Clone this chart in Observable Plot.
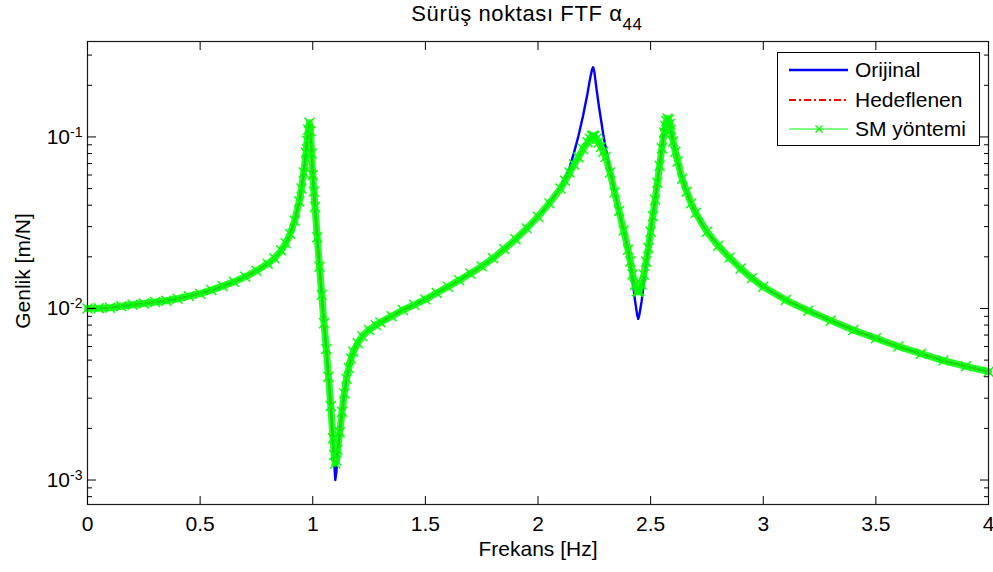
<!DOCTYPE html>
<html>
<head>
<meta charset="utf-8">
<script src="https://cdn.jsdelivr.net/npm/d3@7"></script>
<script src="https://cdn.jsdelivr.net/npm/@observablehq/plot@0.6"></script>
<style>
  body { margin: 0; background: #fff; font-family: "Liberation Sans", Arial, sans-serif; }
  #wrap { position: relative; width: 993px; height: 572px; overflow: hidden; }
  #wrap > svg { position: absolute; left: 0; top: 0; }
  #legend { position: absolute; left: 777px; top: 52px; width: 203px; height: 94px;
            border: 1px solid #000; background: #fff; box-sizing: border-box; }
  .lrow { position: absolute; left: 0; height: 26px; width: 100%; }
  .lrow svg { position: absolute; left: 11px; top: 0; }
  .lrow span { position: absolute; left: 77px; top: 0; font-size: 21px; line-height: 26px; color: #000; white-space: nowrap; }
</style>
</head>
<body>
<div id="wrap"></div>
<script>
// ---- data ----
const frekans = [
  0.00, 0.05, 0.10, 0.15, 0.20, 0.25, 0.30, 0.35, 0.40, 0.45,
  0.50, 0.55, 0.60, 0.65, 0.70, 0.75, 0.80, 0.83, 0.86, 0.88,
  0.90, 0.92, 0.94, 0.95, 0.96, 0.97, 0.975, 0.98, 0.985, 0.99,
  0.995, 1.00, 1.005, 1.01, 1.02, 1.03, 1.04, 1.05, 1.06, 1.07,
  1.08, 1.09, 1.095, 1.10, 1.105, 1.11, 1.12, 1.13, 1.14, 1.15,
  1.16, 1.17, 1.18, 1.20, 1.22, 1.25, 1.28, 1.30, 1.35, 1.40,
  1.45, 1.50, 1.55, 1.60, 1.65, 1.70, 1.75, 1.80, 1.85, 1.90,
  1.95, 2.00, 2.05, 2.10, 2.12, 2.14, 2.16, 2.18, 2.20, 2.22,
  2.23, 2.24, 2.245, 2.25, 2.26, 2.27, 2.28, 2.29, 2.30, 2.32,
  2.34, 2.36, 2.38, 2.40, 2.41, 2.42, 2.43, 2.44, 2.445, 2.45,
  2.46, 2.47, 2.48, 2.49, 2.50, 2.51, 2.52, 2.53, 2.54, 2.55,
  2.56, 2.565, 2.57, 2.575, 2.58, 2.585, 2.59, 2.60, 2.61, 2.62,
  2.64, 2.66, 2.68, 2.70, 2.75, 2.80, 2.85, 2.90, 2.95, 3.00,
  3.10, 3.20, 3.30, 3.40, 3.50, 3.60, 3.70, 3.80, 3.90, 4.00
];
const orijinal = [
  0.0100, 0.01003, 0.0101, 0.0103, 0.0105, 0.0107, 0.0109, 0.0111, 0.0114, 0.0118,
  0.0122, 0.0128, 0.0135, 0.0143, 0.0153, 0.0166, 0.0182, 0.0196, 0.0218, 0.0240,
  0.0272, 0.0325, 0.0420, 0.0500, 0.0620, 0.0810, 0.0950, 0.1100, 0.1210, 0.1080,
  0.0800, 0.0600, 0.0480, 0.0390, 0.0260, 0.0175, 0.0120, 0.0082, 0.0058, 0.0040,
  0.0027, 0.00170, 0.00130, 0.00100, 0.00112, 0.00140, 0.0019, 0.0025, 0.0032, 0.0039,
  0.0045, 0.0051, 0.0056, 0.0063, 0.0069, 0.0075, 0.0080, 0.0083, 0.0090, 0.0098,
  0.0105, 0.0113, 0.0123, 0.0134, 0.0146, 0.0160, 0.0176, 0.0196, 0.0222, 0.0253,
  0.0293, 0.0343, 0.0410, 0.0510, 0.0570, 0.0660, 0.0810, 0.1020, 0.1330, 0.1800,
  0.2150, 0.2480, 0.2550, 0.2400, 0.1900, 0.1520, 0.1250, 0.1030, 0.0870, 0.0640,
  0.0480, 0.0370, 0.0285, 0.0220, 0.0182, 0.0146, 0.0113, 0.0092, 0.0087, 0.0092,
  0.0110, 0.0140, 0.0180, 0.0225, 0.0280, 0.0345, 0.0430, 0.0540, 0.0680, 0.0860,
  0.1060, 0.1160, 0.1240, 0.1280, 0.1260, 0.1190, 0.1100, 0.0940, 0.0820, 0.0720,
  0.0570, 0.0480, 0.0410, 0.0360, 0.0280, 0.0232, 0.0198, 0.0171, 0.0150, 0.0134,
  0.0112, 0.0097, 0.0085, 0.0075, 0.0067, 0.0060, 0.00545, 0.00497, 0.00460, 0.00428
];
const hedeflenen = [
  0.0100, 0.01003, 0.0101, 0.0103, 0.0105, 0.0107, 0.0109, 0.0111, 0.0114, 0.0118,
  0.0122, 0.0128, 0.0135, 0.0143, 0.0153, 0.0166, 0.0182, 0.0196, 0.0218, 0.0240,
  0.0272, 0.0325, 0.0420, 0.0500, 0.0620, 0.0810, 0.0950, 0.1100, 0.1210, 0.1080,
  0.0800, 0.0600, 0.0480, 0.0390, 0.0260, 0.0175, 0.0120, 0.0082, 0.0058, 0.0040,
  0.0027, 0.00175, 0.00140, 0.00125, 0.00130, 0.00150, 0.0019, 0.0025, 0.0032, 0.0039,
  0.0045, 0.0051, 0.0056, 0.0063, 0.0069, 0.0075, 0.0080, 0.0083, 0.0090, 0.0098,
  0.0105, 0.0113, 0.0123, 0.0134, 0.0146, 0.0160, 0.0176, 0.0196, 0.0222, 0.0253,
  0.0293, 0.0343, 0.0410, 0.0500, 0.0555, 0.0620, 0.0690, 0.0760, 0.0850, 0.0930,
  0.0975, 0.1010, 0.1020, 0.1010, 0.0975, 0.0930, 0.0875, 0.0820, 0.0765, 0.0620,
  0.0475, 0.0370, 0.0285, 0.0220, 0.0188, 0.0158, 0.0137, 0.0126, 0.0125, 0.0127,
  0.0138, 0.0158, 0.0188, 0.0225, 0.0280, 0.0345, 0.0430, 0.0540, 0.0680, 0.0860,
  0.1060, 0.1160, 0.1240, 0.1280, 0.1260, 0.1190, 0.1100, 0.0940, 0.0820, 0.0720,
  0.0570, 0.0480, 0.0410, 0.0360, 0.0280, 0.0232, 0.0198, 0.0171, 0.0150, 0.0134,
  0.0112, 0.0097, 0.0085, 0.0075, 0.0067, 0.0060, 0.00545, 0.00497, 0.00460, 0.00428
];
const smYontemi = [
  0.0100, 0.01003, 0.0101, 0.0103, 0.0105, 0.0107, 0.0109, 0.0111, 0.0114, 0.0118,
  0.0122, 0.0128, 0.0135, 0.0143, 0.0153, 0.0166, 0.0182, 0.0196, 0.0218, 0.0240,
  0.0272, 0.0325, 0.0420, 0.0500, 0.0620, 0.0810, 0.0950, 0.1100, 0.1210, 0.1080,
  0.0800, 0.0600, 0.0480, 0.0390, 0.0260, 0.0175, 0.0120, 0.0082, 0.0058, 0.0040,
  0.0027, 0.00175, 0.00140, 0.00125, 0.00130, 0.00150, 0.0019, 0.0025, 0.0032, 0.0039,
  0.0045, 0.0051, 0.0056, 0.0063, 0.0069, 0.0075, 0.0080, 0.0083, 0.0090, 0.0098,
  0.0105, 0.0113, 0.0123, 0.0134, 0.0146, 0.0160, 0.0176, 0.0196, 0.0222, 0.0253,
  0.0293, 0.0343, 0.0410, 0.0500, 0.0555, 0.0620, 0.0690, 0.0760, 0.0850, 0.0930,
  0.0975, 0.1010, 0.1020, 0.1010, 0.0975, 0.0930, 0.0875, 0.0820, 0.0765, 0.0620,
  0.0475, 0.0370, 0.0285, 0.0220, 0.0188, 0.0158, 0.0137, 0.0126, 0.0125, 0.0127,
  0.0138, 0.0158, 0.0188, 0.0225, 0.0280, 0.0345, 0.0430, 0.0540, 0.0680, 0.0860,
  0.1060, 0.1160, 0.1240, 0.1280, 0.1260, 0.1190, 0.1100, 0.0940, 0.0820, 0.0720,
  0.0570, 0.0480, 0.0410, 0.0360, 0.0280, 0.0232, 0.0198, 0.0171, 0.0150, 0.0134,
  0.0112, 0.0097, 0.0085, 0.0075, 0.0067, 0.0060, 0.00545, 0.00497, 0.00460, 0.00428
];
const seriesNames = ["Orijinal", "Hedeflenen", "SM yöntemi"];
const seriesColors = ["#0000ff", "#ff0000", "#00ff00"];
const xTicks = [0, 0.5, 1, 1.5, 2, 2.5, 3, 3.5, 4];
const yTicks = [0.001, 0.01, 0.1];
const yMinorTicks = [0.0008, 0.0009, 0.002, 0.003, 0.004, 0.005, 0.006, 0.007, 0.008, 0.009,
                     0.02, 0.03, 0.04, 0.05, 0.06, 0.07, 0.08, 0.09, 0.2, 0.3];
const titleText = "Sürüş noktası FTF α";
const titleSub = "44";
const xLabel = "Frekans [Hz]";
const yLabel = "Genlik [m/N]";

// ---- build ----
const rows = frekans.map((f, i) => ({f, o: orijinal[i], h: hedeflenen[i], s: smYontemi[i]}));
const font = "Liberation Sans, Arial, sans-serif";

const chart = Plot.plot({
  width: 993,
  height: 572,
  marginTop: 41,
  marginBottom: 68,
  marginLeft: 87,
  marginRight: 5,
  style: {fontFamily: font, fontSize: "21px", background: "#fff", color: "#000", overflow: "visible"},
  x: {domain: [0, 4], label: null},
  y: {type: "log", domain: [0.00072, 0.36], label: null},
  marks: [
    Plot.lineY(rows, {x: "f", y: "o", stroke: seriesColors[0], strokeWidth: 2.4}),
    Plot.lineY(rows, {x: "f", y: "h", stroke: seriesColors[1], strokeWidth: 1.8, strokeDasharray: "7,3,2,3"}),
    Plot.lineY(rows, {x: "f", y: "s", stroke: seriesColors[2], strokeWidth: 7, strokeOpacity: 0.85}),
    Plot.dot(rows, {x: "f", y: "s", symbol: "times", r: 4.6, stroke: seriesColors[2], strokeWidth: 1.4}),
    Plot.frame({stroke: "#1a1a1a", strokeWidth: 1.2}),
    // inward ticks
    Plot.axisX({anchor: "bottom", ticks: xTicks, tickSize: 8, dy: -8, fill: "none", label: null}),
    Plot.axisX({anchor: "top", ticks: xTicks, tickSize: 8, dy: 8, fill: "none", label: null}),
    Plot.axisY({anchor: "left", ticks: yTicks, tickSize: 9, dx: 9, fill: "none", label: null}),
    Plot.axisY({anchor: "right", ticks: yTicks, tickSize: 9, dx: -9, fill: "none", label: null}),
    Plot.axisY({anchor: "left", ticks: yMinorTicks, tickSize: 5, dx: 5, fill: "none", label: null}),
    Plot.axisY({anchor: "right", ticks: yMinorTicks, tickSize: 5, dx: -5, fill: "none", label: null}),
    // tick labels
    Plot.axisX({anchor: "bottom", ticks: xTicks, tickSize: 0, tickPadding: 12, tickFormat: d => String(d), label: null}),
    Plot.axisY({anchor: "left", ticks: yTicks, tickSize: 0, tickPadding: 5, tickFormat: d => String(Math.round(Math.log10(d))), label: null}),
    // axis titles
    Plot.text([xLabel], {text: d => d, frameAnchor: "bottom", dy: 51, fontSize: 21, fill: "#000"}),
    Plot.text([yLabel], {text: d => d, frameAnchor: "left", textAnchor: "middle", lineAnchor: "middle", rotate: -90, dx: -64, dy: -2, fontSize: 21, fill: "#000"})
  ]
});

document.getElementById("wrap").appendChild(chart);

// y tick labels as 10^n with superscript
const svg = d3.select(chart);
svg.selectAll('g[aria-label="y-axis tick label"] text').each(function () {
  const t = d3.select(this);
  const e = t.text();
  t.text("10");
  t.append("tspan").attr("dy", "-0.5em").attr("font-size", "14px").text(e);
});

// title with subscript
const tt = svg.append("text")
  .attr("x", 527).attr("y", 21)
  .attr("text-anchor", "middle")
  .attr("font-family", font).attr("font-size", "22px").attr("fill", "#000")
  .attr("letter-spacing", "0.6px")
  .text(titleText);
tt.append("tspan").attr("dy", "0.5em").attr("font-size", "17px").text(titleSub);

// legend
const legend = document.createElement("div");
legend.id = "legend";
const centers = [17, 46.5, 75.5];
seriesNames.forEach((name, i) => {
  const row = document.createElement("div");
  row.className = "lrow";
  row.style.top = (centers[i] - 13) + "px";
  let sample;
  if (i === 0) sample = `<line x1="0" y1="13" x2="59" y2="13" stroke="${seriesColors[0]}" stroke-width="2.5"/>`;
  else if (i === 1) sample = `<line x1="0" y1="13" x2="59" y2="13" stroke="${seriesColors[1]}" stroke-width="2" stroke-dasharray="7,3,2,3"/>`;
  else sample = `<line x1="0" y1="13" x2="59" y2="13" stroke="${seriesColors[2]}" stroke-width="1"/>` +
                `<path d="M26.5,9.5L33.5,16.5M33.5,9.5L26.5,16.5" stroke="${seriesColors[2]}" stroke-width="1.3"/>`;
  row.innerHTML = `<svg width="60" height="26">${sample}</svg><span>${name}</span>`;
  legend.appendChild(row);
});
document.getElementById("wrap").appendChild(legend);
</script>
</body>
</html>
